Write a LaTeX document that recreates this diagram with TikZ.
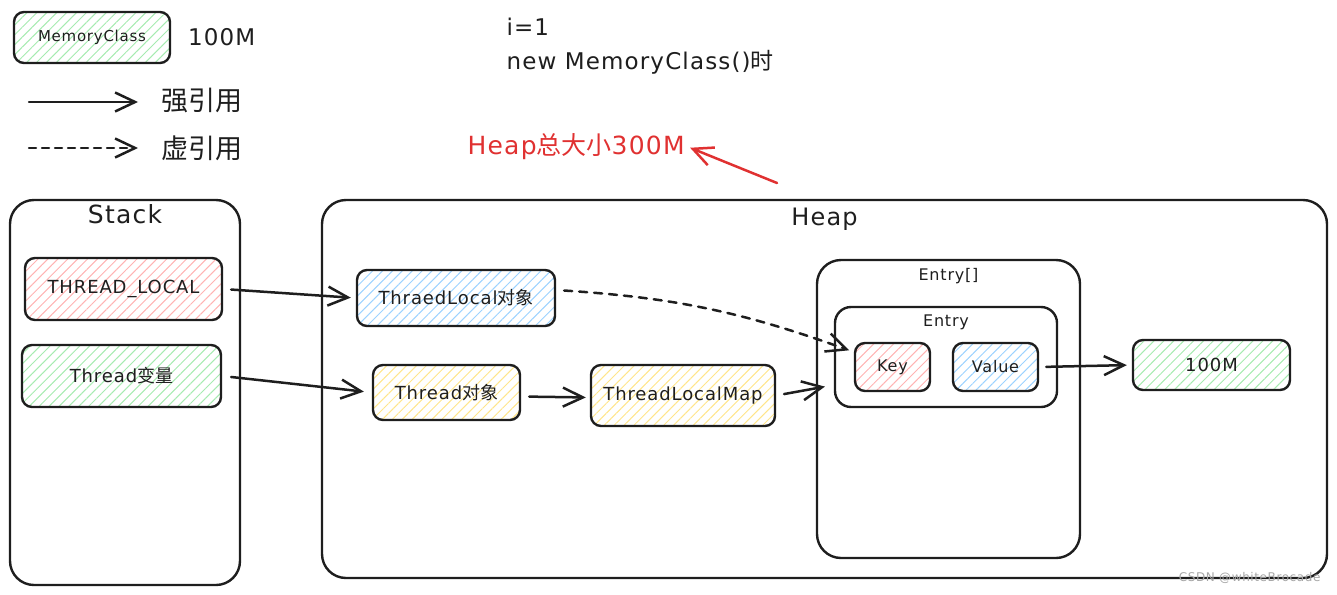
\documentclass[tikz,border=0pt]{standalone}
\usepackage{fontspec}
\setmainfont{DejaVu Sans}[LetterSpace=5]
\newfontfamily\cjk{Noto Sans CJK SC}
\usetikzlibrary{positioning,arrows.meta,patterns.meta}

\definecolor{ink}{HTML}{1E1E1E}
\definecolor{hred}{HTML}{FFB3B3}
\definecolor{hgreen}{HTML}{A6EBB0}
\definecolor{hblue}{HTML}{9CD2FF}
\definecolor{hyellow}{HTML}{FFE58A}
\definecolor{note}{HTML}{E03131}

\tikzset{
  box/.style={draw=ink, line width=2.4pt, rounded corners=10pt, text=ink,
    font=\fontsize{18}{21}\selectfont},
  hatch/.style={pattern={Lines[angle=45,distance=7pt,line width=1pt]}, pattern color=#1},
  frame/.style={draw=ink, line width=2.4pt, rounded corners=24pt},
  ref/.style={draw=ink, line width=2.5pt, line cap=round,
    -{Straight Barb[length=20pt,width=19pt,line width=2.5pt]}},
  title/.style={text=ink, font=\fontsize{23}{27}\selectfont},
  small/.style={text=ink, font=\fontsize{16}{19}\selectfont},
}

\begin{document}
\begin{tikzpicture}[x=1pt,y=-1pt]
    \useasboundingbox (0,0) rectangle (1337,594);

    % legend
    \node[box, hatch=hgreen, minimum width=156, minimum height=51,
      font=\fontsize{15}{17}\selectfont] (legend) at (92,37.5) {MemoryClass};
    \node[right=14pt of legend, title] (legendsize) {100M};
    \coordinate (solidA) at (29,102);
    \coordinate (solidB) at (138,102);
    \coordinate (dashA) at (29,148);
    \coordinate (dashB) at (138,148);
    \draw[ref] (solidA) -- (solidB);
    \draw[ref, dash pattern=on 7pt off 6pt] (dashA) -- (dashB);
    \node[anchor=west, text=ink, font=\cjk\fontsize{27}{30}\selectfont] (strong) at (158,100) {强引用};
    \node[anchor=west, text=ink, font=\cjk\fontsize{27}{30}\selectfont] (weak) at (158,148) {虚引用};

    \node[anchor=west, title] (iter) at (503,27) {i=1};
    \node[anchor=west, title] (newcall) at (503,62) {new MemoryClass(){\cjk 时}};

    \node[anchor=west, text=note, font=\fontsize{25}{29}\selectfont] (heapsize) at (464,147) {Heap{\cjk 总大小}300M};
    \coordinate (hint) at (777,183);
    \draw[ref, draw=note, shorten >=2pt] (hint) -- (heapsize.east);

    % stack
    \node[frame, minimum width=230, minimum height=385] (stack) at (125,392.5) {};
    \node[below=2pt of stack.north, text=ink, font=\fontsize{25}{29}\selectfont] (stacktitle) {Stack};
    \node[box, hatch=hred, minimum width=197, minimum height=62] (tlvar) at (123.5,289) {THREAD\_LOCAL};
    \node[box, hatch=hgreen, minimum width=199, minimum height=62] (threadvar) at (121.5,376) {Thread{\cjk 变量}};

    % heap
    \node[frame, minimum width=1005, minimum height=378] (heap) at (824.5,389) {};
    \node[below=6pt of heap.north, text=ink, font=\fontsize{24}{28}\selectfont] (heaptitle) {Heap};
    \node[box, hatch=hblue, minimum width=198, minimum height=56] (tlobj) at (456,298) {ThraedLocal{\cjk 对象}};
    \node[box, hatch=hyellow, minimum width=147, minimum height=55] (threadobj) at (446.5,392.5) {Thread{\cjk 对象}};
    \node[box, hatch=hyellow, minimum width=184, minimum height=61] (tlmap) at (683,395.5) {ThreadLocalMap};

    \node[frame, minimum width=263, minimum height=298] (entries) at (948.5,409) {};
    \node[small, below=6pt of entries.north] (entriestitle) {Entry[]};
    \node[frame, rounded corners=16pt, minimum width=222, minimum height=100] (entry) at (946,357) {};
    \node[small, below=5pt of entry.north] (entrytitle) {Entry};
    \node[box, hatch=hred, minimum width=75, minimum height=48, font=\fontsize{16}{19}\selectfont] (key) at (892.5,367) {Key};
    \node[box, hatch=hblue, minimum width=85, minimum height=48, font=\fontsize{16}{19}\selectfont] (value) at (995.5,367) {Value};
    \node[box, hatch=hgreen, minimum width=157, minimum height=50] (big) at (1211.5,365) {100M};

    % references
    \draw[ref, shorten <=8pt, shorten >=5pt] (tlvar.east) -- (tlobj.west);
    \draw[ref, shorten <=9pt, shorten >=8pt] (threadvar.east) -- (threadobj.west);
    \draw[ref, shorten <=8pt, shorten >=4pt] ([yshift=-4pt]threadobj.east) -- ([yshift=-2pt]tlmap.west);
    \draw[ref, shorten <=8pt, shorten >=9pt] (tlmap.east) -- ([yshift=-28pt]entry.west);
    \draw[ref, dash pattern=on 8pt off 7pt, shorten <=8pt, shorten >=5pt]
      ([yshift=8pt]tlobj.east) to[bend left=8] ([yshift=15pt]key.west);
    \draw[ref, shorten <=7pt, shorten >=5pt] (value.east) -- (big.west);

    \node[anchor=east, text=gray!70, font=\fontsize{12}{14}\selectfont] (mark) at (1324,578) {CSDN @whiteBrocade};
\end{tikzpicture}
\end{document}
